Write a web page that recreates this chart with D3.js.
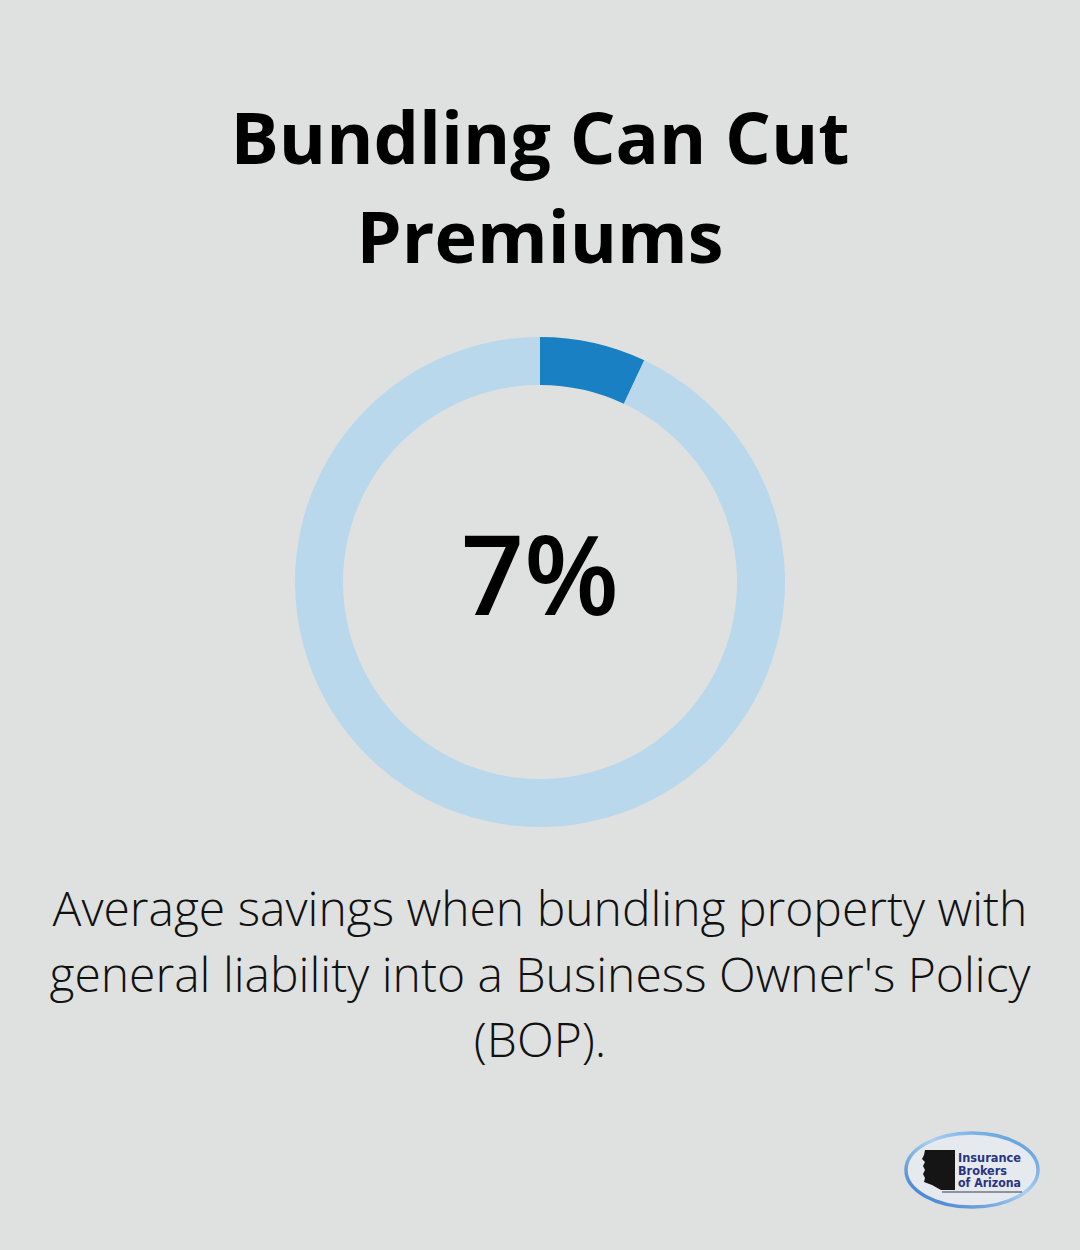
<!DOCTYPE html>
<html><head><meta charset="utf-8">
<script src="https://cdn.jsdelivr.net/npm/d3@7"></script>
<style>
html,body{margin:0;padding:0;background:#dfe1e0;}
svg{display:block;}
</style></head>
<body>
<svg id="chart" width="1080" height="1250"></svg>
<script>
const titleLines = ["Bundling Can Cut", "Premiums"];
const categories = ["Savings", "Remainder"];
const values = [7, 93];
const centerLabel = "7%";
const captionLines = ["Average savings when bundling property with", "general liability into a Business Owner's Policy", "(BOP)."];
const logoLines = ["Insurance", "Brokers", "of Arizona"];

const svg = d3.select("#chart");
svg.append("rect").attr("width",1080).attr("height",1250).attr("fill","#dfe1e0");

const font = "'Open Sans', sans-serif";

svg.selectAll("text.title").data(titleLines).join("text")
  .attr("class","title")
  .attr("x",540).attr("y",(d,i)=>164+i*99)
  .attr("text-anchor","middle")
  .attr("font-family",font).attr("font-weight",700).attr("font-size",72)
  .attr("fill","#000").text(d=>d);

const color = d3.scaleOrdinal().domain(categories).range(["#1a80c4","#b9d8ec"]);
const pie = d3.pie().sort(null).value(d=>d.v);
const arc = d3.arc().innerRadius(197).outerRadius(245);
const g = svg.append("g").attr("transform","translate(540,582)");
g.selectAll("path").data(pie(categories.map((c,i)=>({c,v:values[i]})))).join("path")
  .attr("d",arc).attr("fill",d=>color(d.data.c));

g.append("text").attr("x",0).attr("y",33)
  .attr("text-anchor","middle")
  .attr("font-family",font).attr("font-weight",600).attr("font-size",110)
  .attr("fill","#000").text(centerLabel);

svg.selectAll("text.cap").data(captionLines).join("text")
  .attr("class","cap")
  .attr("x",540).attr("y",(d,i)=>926+i*65.5)
  .attr("text-anchor","middle")
  .attr("font-family",font).attr("font-weight",300).attr("font-size",48)
  .attr("fill","#111").text(d=>d);

// logo
const defs = svg.append("defs");
const lg = defs.append("linearGradient").attr("id","lg").attr("x1","0").attr("x2","1").attr("y1","1").attr("y2","0");
lg.append("stop").attr("offset","0").attr("stop-color","#2f72c8");
lg.append("stop").attr("offset","0.55").attr("stop-color","#a8d0f2");
lg.append("stop").attr("offset","1").attr("stop-color","#4a92d8");
const logo = svg.append("g").attr("transform","translate(972,1170)");
logo.append("ellipse").attr("rx",66).attr("ry",37).attr("fill","#e6eaef").attr("stroke","url(#lg)").attr("stroke-width",3.5);
logo.append("path").attr("d","M-30,22 L50,22").attr("fill","none").attr("stroke","#6d7684").attr("stroke-width",1.5);
logo.append("path").attr("d","M-47,-20 L-17,-20 L-17,20 L-31,20 L-40,15 L-48,12 L-47,8 L-49,4 L-47,0 L-49,-4 L-47,-8 L-50,-11 L-48,-15 Z").attr("fill","#151515");
logo.selectAll("text").data(logoLines).join("text")
  .attr("x",-14).attr("y",(d,i)=>-8+i*12.5)
  .attr("font-family","'Liberation Sans Narrow','DejaVu Sans Condensed',sans-serif")
  .attr("font-weight",700).attr("font-size",11.5).attr("fill","#2a3480")
  .attr("textLength",(d,i)=>[63,49,63][i]).attr("lengthAdjust","spacingAndGlyphs")
  .text(d=>d);
</script>
</body></html>
